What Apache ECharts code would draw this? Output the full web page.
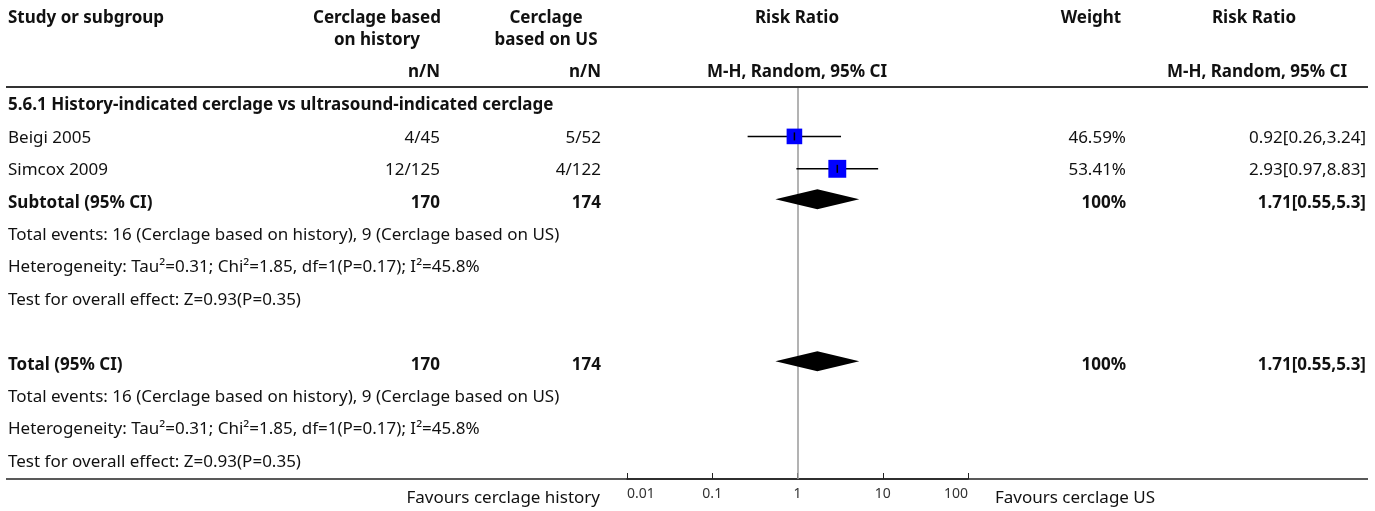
<!DOCTYPE html>
<html><head><meta charset="utf-8">
<script src="https://cdn.jsdelivr.net/npm/echarts@6/dist/echarts.min.js"></script>
<style>html,body{margin:0;padding:0;background:#fff}#c{width:1375px;height:511px}</style>
</head><body><div id="c"></div>
<script>
// ---- data ----
const studies = ['Beigi 2005', 'Simcox 2009'];
const eventsHistory = ['4/45', '12/125'];
const eventsUS = ['5/52', '4/122'];
const riskRatio = [0.92, 2.93];
const ciLow = [0.26, 0.97];
const ciHigh = [3.24, 8.83];
const weights = [46.59, 53.41];
const weightLabels = ['46.59%', '53.41%'];
const rrLabels = ['0.92[0.26,3.24]', '2.93[0.97,8.83]'];
const pooledRR = [1.71, 1.71];
const pooledLow = [0.55, 0.55];
const pooledHigh = [5.3, 5.3];
const pooledRows = [3, 8];
const pooledTotals = ['170', '174'];
const pooledWeight = '100%';
const pooledLabel = '1.71[0.55,5.3]';
const axisTicks = [0.01, 0.1, 1, 10, 100];
const subgroupTitle = '5.6.1 History-indicated cerclage vs ultrasound-indicated cerclage';
const summaryLines = [
  'Total events: 16 (Cerclage based on history), 9 (Cerclage based on US)',
  'Heterogeneity: Tau\u00b2=0.31; Chi\u00b2=1.85, df=1(P=0.17); I\u00b2=45.8%',
  'Test for overall effect: Z=0.93(P=0.35)'
];

const FONT = '"Noto Sans"';
const FS = 17;
const TXT = '#111';

const chart = echarts.init(document.getElementById('c'), null, {renderer: 'canvas'});

const studyData = studies.map((s, i) => [riskRatio[i], ciLow[i], ciHigh[i], weights[i], i + 1]);
const pooledData = pooledRR.map((v, i) => [v, pooledLow[i], pooledHigh[i], pooledRows[i]]);

chart.setOption({
  animation: false,
  grid: {left: 627, width: 341, top: 88, height: 391},
  xAxis: {
    type: 'log', logBase: 10, min: 0.01, max: 100, position: 'bottom',
    axisLine: {show: true, onZero: false, lineStyle: {color: '#222', width: 1.5}},
    axisTick: {show: true, inside: true, length: 6, lineStyle: {color: '#222', width: 1}},
    axisLabel: {show: true, fontFamily: 'Noto Sans', fontSize: 14, color: '#333', margin: 8,
      alignMinLabel: 'left', alignMaxLabel: 'right',
      formatter: v => axisTicks.includes(+v) ? String(+v) : ''},
    splitLine: {show: false}
  },
  yAxis: {type: 'value', inverse: true, min: -0.494, max: 11.574, show: false},
  series: [
    {
      type: 'custom', name: 'studies', data: studyData, clip: false, z: 3,
      renderItem: (params, api) => {
        const y = api.coord([1, api.value(4)])[1];
        const c = api.coord([api.value(0), api.value(4)]);
        const l = api.coord([api.value(1), api.value(4)]);
        const h = api.coord([api.value(2), api.value(4)]);
        const side = 0.335 * api.value(3);
        return {type: 'group', children: [
          {type: 'line', shape: {x1: l[0], y1: y, x2: h[0], y2: y}, style: {stroke: '#000', lineWidth: 1.5}},
          {type: 'rect', shape: {x: c[0] - side / 2, y: y - side / 2, width: side, height: side}, style: {fill: '#0000ff'}},
          {type: 'line', shape: {x1: c[0], y1: y - 4, x2: c[0], y2: y + 4}, style: {stroke: '#000', lineWidth: 1.5}}
        ]};
      },
      markLine: {
        silent: true, symbol: 'none', z: 1,
        lineStyle: {color: '#9a9a9a', width: 1.5, type: 'solid'},
        label: {show: false},
        data: [{xAxis: 1}]
      }
    },
    {
      type: 'custom', name: 'pooled', data: pooledData, clip: false, z: 3,
      renderItem: (params, api) => {
        const c = api.coord([api.value(0), api.value(3)]);
        const l = api.coord([api.value(1), api.value(3)]);
        const h = api.coord([api.value(2), api.value(3)]);
        const y = c[1] - 2;
        return {type: 'polygon', shape: {points: [[l[0], y], [c[0], y - 10], [h[0], y], [c[0], y + 10]]},
          style: {fill: '#000'}};
      }
    }
  ]
});

function rowY(i) { return chart.convertToPixel({gridIndex: 0}, [1, i])[1] + 1.5; }
function txt(text, x, y, align, bold, size, color) {
  return {type: 'text', silent: true, z: 10, style: {
    text: text, x: x, y: y, textAlign: align || 'left', textVerticalAlign: 'middle', verticalAlign: 'middle',
    font: (bold ? 'bold ' : '') + (size || FS) + 'px ' + FONT, fill: color || TXT
  }};
}

const g = [];
// header
g.push(txt('Study or subgroup', 8, 18, 'left', true));
g.push(txt('Cerclage based', 377, 18, 'center', true));
g.push(txt('on history', 377, 40, 'center', true));
g.push(txt('Cerclage', 546, 18, 'center', true));
g.push(txt('based on US', 546, 40, 'center', true));
g.push(txt('n/N', 440, 72, 'right', true));
g.push(txt('n/N', 601, 72, 'right', true));
g.push(txt('Risk Ratio', 797, 18, 'center', true));
g.push(txt('M-H, Random, 95% CI', 797, 72, 'center', true));
g.push(txt('Weight', 1091, 18, 'center', true));
g.push(txt('Risk Ratio', 1254, 18, 'center', true));
g.push(txt('M-H, Random, 95% CI', 1257, 72, 'center', true));
// lines
g.push({type: 'line', silent: true, shape: {x1: 6, y1: 87, x2: 1368, y2: 87}, style: {stroke: '#333', lineWidth: 2}});
g.push({type: 'line', silent: true, shape: {x1: 6, y1: 479, x2: 1368, y2: 479}, style: {stroke: '#222', lineWidth: 1.5}});
// subgroup
g.push(txt(subgroupTitle, 8, rowY(0), 'left', true));
studies.forEach((s, i) => {
  const y = rowY(i + 1);
  g.push(txt(s, 8, y, 'left'));
  g.push(txt(eventsHistory[i], 440, y, 'right'));
  g.push(txt(eventsUS[i], 601, y, 'right'));
  g.push(txt(weightLabels[i], 1126, y, 'right'));
  g.push(txt(rrLabels[i], 1366, y, 'right'));
});
['Subtotal (95% CI)', 'Total (95% CI)'].forEach((lab, k) => {
  const r = pooledRows[k];
  const y = rowY(r);
  g.push(txt(lab, 8, y, 'left', true));
  g.push(txt(pooledTotals[0], 440, y, 'right', true));
  g.push(txt(pooledTotals[1], 601, y, 'right', true));
  g.push(txt(pooledWeight, 1126, y, 'right', true));
  g.push(txt(pooledLabel, 1366, y, 'right', true));
  summaryLines.forEach((s, j) => g.push(txt(s, 8, rowY(r + 1 + j), 'left')));
});
// favours
g.push(txt('Favours cerclage history', 600, 498, 'right'));
g.push(txt('Favours cerclage US', 995, 498, 'left'));

chart.setOption({graphic: g});
</script>
</body></html>
